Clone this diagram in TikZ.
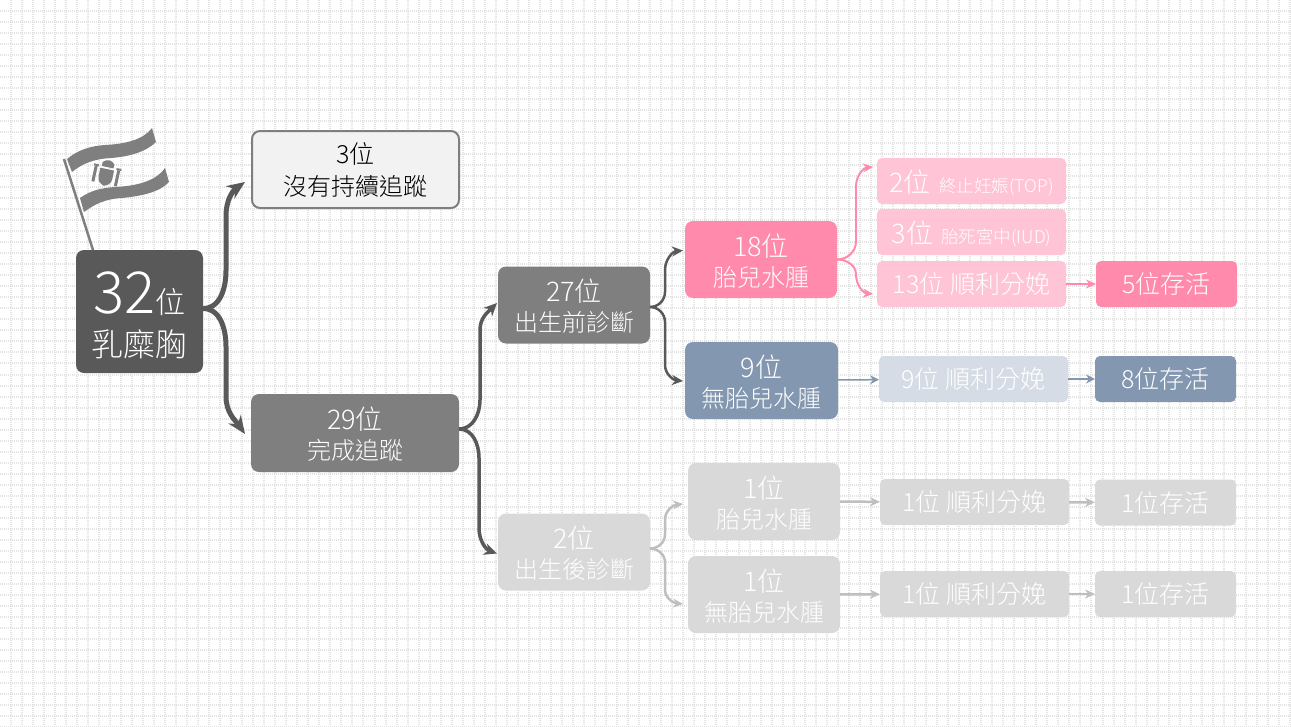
\documentclass[tikz,border=0pt]{standalone}
\usepackage{fontspec}
\setmainfont{Noto Sans CJK TC}[UprightFont=* Light]
\usetikzlibrary{arrows.meta, positioning}
\definecolor{darkbox}{HTML}{595959}
\definecolor{midbox}{HTML}{7F7F7F}
\definecolor{palebox}{HTML}{D9D9D9}
\definecolor{palearr}{HTML}{BFBFBF}
\definecolor{pinkbox}{HTML}{FF8AAB}
\definecolor{lightpink}{HTML}{FFC4D5}
\definecolor{bluebox}{HTML}{8497B0}
\definecolor{lightblue}{HTML}{D6DCE5}
\newcommand{\cnt}[1]{{\rule{0pt}{25.5pt}\fontsize{27}{30}\selectfont #1}}
\newcommand{\subtxt}[1]{{\fontsize{17.5}{20}\selectfont #1}}
\tikzset{
	box/.style={rectangle, rounded corners=8pt, minimum width=152pt, minimum height=77pt,
		align=center, text=white, inner sep=0pt, outer sep=0pt, font=\fontsize{24}{30}\selectfont},
	sbox/.style={rectangle, rounded corners=5pt, minimum width=189pt, minimum height=46pt,
		align=center, text=white, inner sep=0pt, outer sep=0pt, font=\fontsize{25}{28}\selectfont},
	endbox/.style={sbox, minimum width=141pt},
	arrbig/.style={-{Stealth[length=18pt, width=15pt]}, line width=5pt, color=darkbox},
	arrmid/.style={-{Stealth[length=13pt, width=12pt]}, line width=3.5pt, color=darkbox},
	arrsmall/.style={-{Stealth[length=11pt, width=10pt]}, line width=2.5pt, color=darkbox},
	arrpink/.style={-{Stealth[length=10pt, width=9pt]}, line width=2pt, color=pinkbox},
	arrblue/.style={-{Stealth[length=9pt, width=9pt]}, line width=1.5pt, color=bluebox},
	arrpale/.style={-{Stealth[length=10pt, width=9pt]}, line width=2.5pt, color=palearr},
	gridline/.style={black!11, line width=2pt, dash pattern=on 1pt off 1pt},
	flagpart/.style={fill=midbox, draw=none},
}
\begin{document}
\begin{tikzpicture}[x=1pt, y=-1pt]
	\useasboundingbox (0,0) rectangle (1291,726);
	\fill[white] (0,0) rectangle (1291,726);
	\foreach \i in {1,...,118} \draw[gridline] (\i*11.03-0.5,0) -- (\i*11.03-0.5,726);
	\foreach \i in {1,...,66} \draw[gridline] (0,\i*11.03-0.5) -- (1291,\i*11.03-0.5);

	% left column
	\node[box, fill=darkbox, minimum width=127pt, minimum height=123pt, anchor=north west,
		font=\fontsize{32}{43}\selectfont] (root) at (76,250) {\rule{0pt}{49pt}{\fontsize{58}{50}\selectfont 32}{\fontsize{30}{43}\selectfont 位}\\乳糜胸};
	\node[box, fill=black!5, draw=midbox, line width=2pt, text=black, minimum width=207pt, minimum height=77pt,
		anchor=north west, font=\fontsize{24}{32}\selectfont] (lost) at (252,131) {{\fontsize{25}{32}\selectfont 3位}\\沒有持續追蹤};
	\node[box, fill=midbox, minimum width=208pt, minimum height=78pt, anchor=north west] (done) at (251,394)
		{\cnt{29位}\\完成追蹤};

	% second column
	\node[box, fill=midbox, right=39pt of done, yshift=128pt] (pre) {\cnt{27位}\\出生前診斷};
	\node[box, fill=palebox, below=170pt of pre] (post) {\cnt{2位}\\出生後診斷};

	% third column
	\node[box, fill=pinkbox, anchor=north west] (hyd) at (685,221) {\cnt{18位}\\胎兒水腫};
	\node[box, fill=bluebox, minimum width=153pt, below=44pt of hyd.south west, anchor=north west] (nohyd)
		{\cnt{9位}\\無胎兒水腫};
	\node[box, fill=palebox, anchor=north west] (posthyd) at (688,463) {\cnt{1位}\\胎兒水腫};
	\node[box, fill=palebox, below=16pt of posthyd] (postno) {\cnt{1位}\\無胎兒水腫};

	% outcomes
	\node[sbox, fill=lightpink, anchor=north west] (top) at (877,158) {\cnt{2位}\,\,\subtxt{終止妊娠(TOP)}};
	\node[sbox, fill=lightpink, below=5pt of top] (iud) {\cnt{3位}\,\,\subtxt{胎死宮中(IUD)}};
	\node[sbox, fill=lightpink, below=6pt of iud] (birthA) {13位 順利分娩};
	\node[endbox, fill=pinkbox, right=30pt of birthA] (liveA) {5位存活};
	\node[sbox, fill=lightblue, anchor=north west] (birthB) at (879,356) {9位 順利分娩};
	\node[endbox, fill=bluebox, right=27pt of birthB] (liveB) {8位存活};
	\node[sbox, fill=palebox, anchor=north west] (birthC) at (880,479) {1位 順利分娩};
	\node[endbox, fill=palebox, right=26pt of birthC, yshift=-0.5pt] (liveC) {1位存活};
	\node[sbox, fill=palebox, anchor=north west] (birthD) at (880,571) {1位 順利分娩};
	\node[endbox, fill=palebox, right=26pt of birthD] (liveD) {1位存活};

	% connectors
	\draw[arrbig] ([yshift=3pt]root.east) to[out=0, in=-90] ++(23,-38) -- ++(0,-55) to[out=90, in=215] ([shift={(-7,12.5)}]lost.west);
	\draw[arrbig] ([yshift=3pt]root.east) to[out=0, in=90] ++(23,38) -- ++(0,50) to[out=-90, in=125] ([shift={(-6,1)}]done.west);
	\draw[arrmid] ([yshift=4pt]done.east) to[out=0, in=-90] ++(21,-29) -- ++(0,-70) to[out=90, in=225] ([shift={(-1,-2)}]pre.west);
	\draw[arrmid] ([yshift=4pt]done.east) to[out=0, in=90] ++(20,29) -- ++(0,70) to[out=-90, in=160] ([shift={(-1,1.5)}]post.west);
	\draw[arrsmall] ([yshift=-2pt]pre.east) to[out=0, in=-90] ++(15,-15) -- ++(0,-22) to[out=90, in=185] ([shift={(-2,-9)}]hyd.west);
	\draw[arrsmall] ([yshift=-2pt]pre.east) to[out=0, in=90] ++(15,15) -- ++(0,43) to[out=-90, in=175] ([shift={(-2,0.5)}]nohyd.west);
	\draw[arrpink] (hyd.east) to[out=0, in=-90] ++(19,-18) -- ++(0,-55) to[out=90, in=185] ([shift={(-4,-14)}]top.west);
	\draw[arrpink] (hyd.east) to[out=0, in=90] ++(19,15) to[out=-90, in=175] ([shift={(-4,10)}]birthA.west);
	\draw[arrpink] (birthA) -- (liveA);
	\draw[arrblue] (nohyd) -- (birthB);
	\draw[arrblue] (birthB) -- (liveB);
	\draw[arrpale] ([yshift=3.5pt]post.east) to[out=0, in=-90] ++(15,-14) -- ++(0,-15) to[out=90, in=185] ([shift={(-5,2.5)}]posthyd.west);
	\draw[arrpale] ([yshift=3.5pt]post.east) to[out=0, in=90] ++(15,14) -- ++(0,27) to[out=-90, in=175] ([shift={(-5,9.5)}]postno.west);
	\draw[arrpale] (posthyd) -- (birthC);
	\draw[arrpale] (postno) -- (birthD);
	\draw[arrpale] (birthC) -- (liveC);
	\draw[arrpale] (birthD) -- (liveD);

	% flag
	\draw[midbox, line width=2.5pt] (64,159) -- (93,250);
	\fill[flagpart] (67,159) .. controls (78,150) and (90,146) .. (105,145) .. controls (125,144) and (143,140) .. (152,128)
		-- (156,142) .. controls (146,152) and (128,157) .. (110,158) .. controls (95,159) and (83,163) .. (72,172) -- cycle;
	\fill[flagpart] (80,198) .. controls (90,191) and (100,188) .. (115,187) .. controls (135,186) and (155,182) .. (165,168)
		-- (169,182) .. controls (160,192) and (142,196) .. (122,198) .. controls (105,199) and (95,204) .. (84,212) -- cycle;
	% coat of arms
	\begin{scope}[rotate around={-12:(106,175)}]
		\fill[flagpart] (99,169) -- (113,169) -- (113,178) .. controls (113,183) and (109,185) .. (106,186) .. controls (103,185) and (99,183) .. (99,178) -- cycle;
		\fill[flagpart] (100,163) .. controls (103,159) and (109,159) .. (112,163) -- (112,167) -- (100,167) -- cycle;
		\fill[flagpart] (93,168) rectangle (96,184);
		\fill[flagpart] (116,168) rectangle (119,184);
		\fill[flagpart] (92,166) rectangle (97,168);
		\fill[flagpart] (115,166) rectangle (120,168);
	\end{scope}
\end{tikzpicture}
\end{document}
